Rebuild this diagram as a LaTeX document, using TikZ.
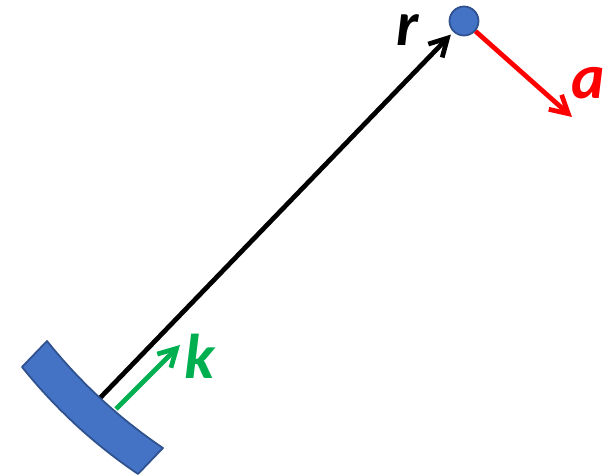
\documentclass[tikz,border=0pt]{standalone}
\usepackage{fontspec}
\setmainfont{Carlito}
\usetikzlibrary{arrows.meta}
\usetikzlibrary{positioning}
\definecolor{plateblue}{RGB}{68,114,196}
\definecolor{plateedge}{RGB}{47,82,143}
\definecolor{red}{RGB}{255,0,0}
\definecolor{green}{RGB}{0,176,80}

\tikzset{
  vec/.style={line width=2.7pt, -{Straight Barb[length=10pt,width=11pt,line width=2.7pt]}},
  veclabel/.style={font=\fontsize{36}{42}\selectfont\bfseries\itshape, inner sep=0pt}
}

\begin{document}
\begin{tikzpicture}[x=0.02cm, y=-0.02cm]

\useasboundingbox (0,0) rectangle (610,476);

%---------------------------------------
% Points
%---------------------------------------
\coordinate (src)  at (100,398);   % foot of r on the plate
\coordinate (acc)  at (572,117);   % tip of a
\coordinate (kfoot) at (116,409);
\coordinate (ktip)  at (180,345);

% Particle
\node[circle, fill=plateblue, draw=plateedge, line width=1pt,
      inner sep=0pt, minimum size=0.58cm]
      (particle) at (464,21) {};

%---------------------------------------
% Vectors
%---------------------------------------
\draw[vec, black, shorten >=2pt] (src) -- (particle);
\draw[vec, red] (particle) -- (acc);
\draw[vec, green] (kfoot) -- (ktip);

% Plate (curved)
\fill[plateblue, draw=plateedge, line width=1pt, line join=round]
  (47,341) .. controls (80.3,382.5) and (118.9,418.2) .. (163,448)
  -- (138,474)
  .. controls (93.9,444.2) and (55.3,408.5) .. (22,367)
  -- cycle;

%---------------------------------------
% Labels
%---------------------------------------
\node[veclabel, black] (rlabel) at (408,30) {r};
\node[veclabel, red]   (alabel) at (588,83) {a};
\node[veclabel, green] (klabel) at (200,356) {k};

\end{tikzpicture}
\end{document}
